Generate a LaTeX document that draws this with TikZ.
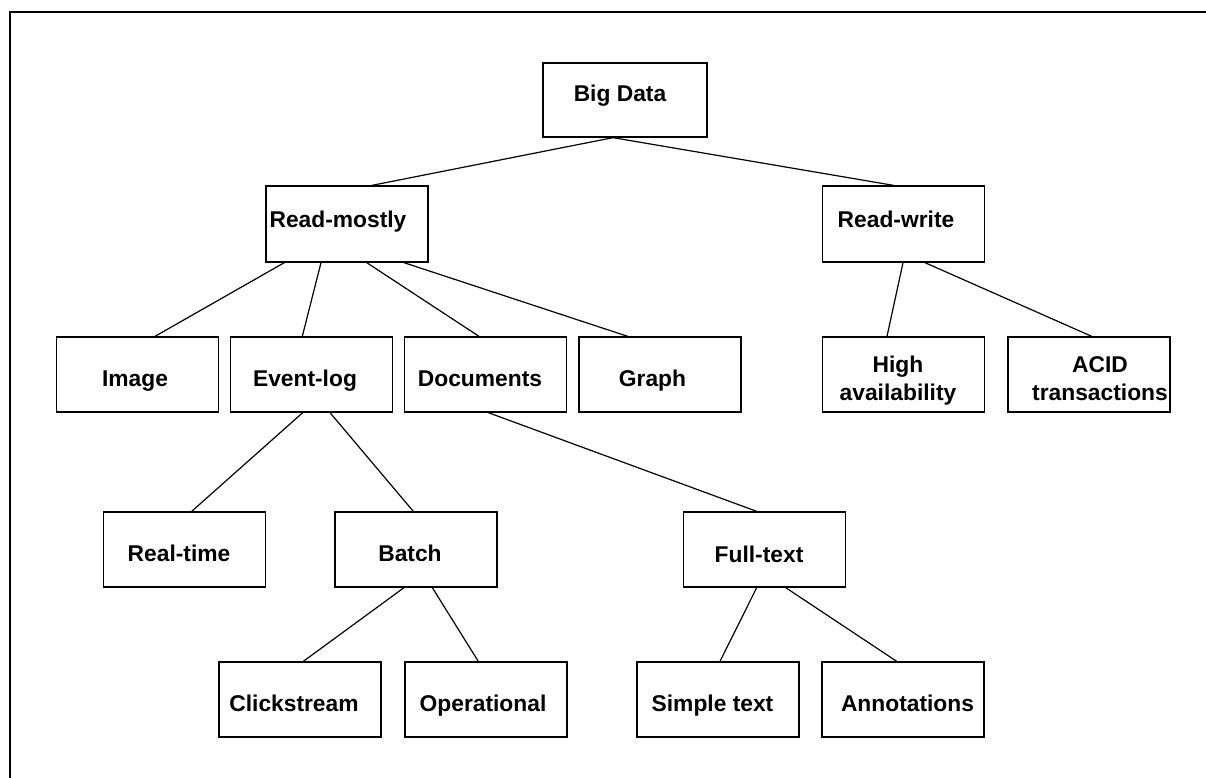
\documentclass[tikz,border=0pt]{standalone}
\usepackage{fontspec}
\setmainfont{Liberation Sans}
\begin{document}
\begin{tikzpicture}[x=1pt,y=-1pt,
  box/.style={draw, line width=1.3pt, rectangle, inner sep=0pt,
              minimum width=162pt, minimum height=75pt},
  lbl/.style={anchor=base, inner sep=0pt, align=center,
              font=\fontsize{22.8}{28}\selectfont\bfseries},
  link/.style={line width=1.2pt}]
\useasboundingbox (0,0) rectangle (1206,778);
% frame (top and left edges only)
\draw[line width=1.8pt] (10,790) -- (10,12) -- (1220,12);

% boxes
\node[box, minimum width=164pt, minimum height=74pt] (bd) at (625,100) {};
\node[box, minimum height=76pt] (rm) at (347,224) {};
\node[box, minimum height=76pt] (rw) at (903.5,224) {};
\node[box] (img) at (137.3,374.5) {};
\node[box] (ev)  at (311.3,374.5) {};
\node[box] (doc) at (485.3,374.5) {};
\node[box] (gr)  at (660,374.5) {};
\node[box] (ha)  at (903.5,374.5) {};
\node[box] (acid) at (1089,374.5) {};
\node[box] (rt)  at (184.2,549.5) {};
\node[box] (bat) at (416,549.5) {};
\node[box] (ft)  at (764.2,549.5) {};
\node[box] (cs)  at (300,699.5) {};
\node[box] (op)  at (486,699.5) {};
\node[box] (st)  at (718,699.5) {};
\node[box] (an)  at (903,699.5) {};

% labels (base = baseline of the last line)
\node[lbl] (bd-t)  at (620,101.7) {Big Data};
\node[lbl] (rm-t)  at (338,227) {Read-mostly};
\node[lbl] (rw-t)  at (896,227) {Read-write};
\node[lbl] (img-t) at (135,386.7) {Image};
\node[lbl] (ev-t)  at (305,386.7) {Event-log};
\node[lbl] (doc-t) at (480,386.7) {Documents};
\node[lbl] (gr-t)  at (652.5,386.7) {Graph};
\node[lbl] (ha-t)  at (898,400.7) {High\\availability};
\node[lbl] (acid-t) at (1100,400.7) {ACID\\transactions};
\node[lbl] (rt-t)  at (179,561.7) {Real-time};
\node[lbl] (bat-t) at (410,561.7) {Batch};
\node[lbl] (ft-t)  at (759,562) {Full-text};
\node[lbl] (cs-t)  at (294,711.7) {Clickstream};
\node[lbl] (op-t)  at (483,711.7) {Operational};
\node[lbl] (st-t)  at (712.5,711.7) {Simple text};
\node[lbl] (an-t)  at (907.5,711.7) {Annotations};

% connectors
\draw[link] ([xshift=-12pt]bd.south) -- ([xshift=25pt]rm.north);
\draw[link] ([xshift=-12pt]bd.south) -- ([xshift=-10pt]rw.north);

\draw[link] ([xshift=-62.7pt]rm.south) -- ([xshift=17.7pt]img.north);
\draw[link] ([xshift=-26pt]rm.south) -- ([xshift=-9pt]ev.north);
\draw[link] ([xshift=19.7pt]rm.south) -- ([xshift=-6.3pt]doc.north);
\draw[link] ([xshift=57pt]rm.south) -- ([xshift=-32.3pt]gr.north);

\draw[link] ([xshift=-0.5pt]rw.south) -- ([xshift=-16.5pt]ha.north);
\draw[link] ([xshift=21.5pt]rw.south) -- ([xshift=2.7pt]acid.north);

\draw[link] ([xshift=-8.6pt]ev.south) -- ([xshift=7.5pt]rt.north);
\draw[link] ([xshift=18.7pt]ev.south) -- ([xshift=-2.7pt]bat.north);
\draw[link] ([xshift=3pt]doc.south) -- ([xshift=-7.5pt]ft.north);

\draw[link] ([xshift=-12pt]bat.south) -- ([xshift=3.3pt]cs.north);
\draw[link] ([xshift=16.3pt]bat.south) -- ([xshift=-7.7pt]op.north);
\draw[link] ([xshift=-7.5pt]ft.south) -- ([xshift=2pt]st.north);
\draw[link] ([xshift=21.5pt]ft.south) -- ([xshift=-6.3pt]an.north);
\end{tikzpicture}
\end{document}
